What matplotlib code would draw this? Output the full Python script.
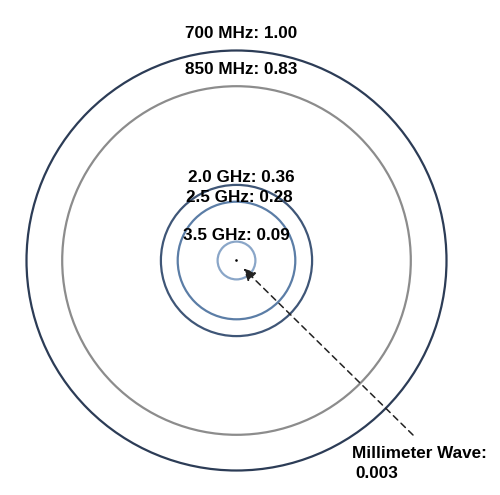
import matplotlib
matplotlib.use("Agg")
import matplotlib.pyplot as plt
from matplotlib.patches import Circle

plt.rcParams['font.family'] = ['Liberation Sans', 'DejaVu Sans']

# Data
bands = ["700 MHz", "850 MHz", "2.0 GHz", "2.5 GHz", "3.5 GHz", "Millimeter Wave"]
relative_range = [1.00, 0.83, 0.36, 0.28, 0.09, 0.003]
labels = ["700 MHz: 1.00", "850 MHz: 0.83", "2.0 GHz: 0.36", "2.5 GHz: 0.28", "3.5 GHz: 0.09", "Millimeter Wave:\n0.003"]

colors = ["#2c3c56", "#8c8c8c", "#3f5677", "#5b7da6", "#8aa6c8", "#000000"]

fig = plt.figure(figsize=(5.0, 4.95), dpi=100)
ax = fig.add_axes([0, 0, 1, 1])
ax.set_xlim(0, 500)
ax.set_ylim(495, 0)
ax.set_aspect('equal')
ax.axis('off')

cx, cy, scale = 236.5, 260.5, 210.0

for val, col in zip(relative_range[:-1], colors[:-1]):
    ax.add_patch(Circle((cx, cy), val * scale, fill=False, edgecolor=col, lw=1.6))

# Millimeter wave: tiny dot
ax.add_patch(Circle((cx, cy), max(relative_range[-1] * scale, 1.3), color=colors[-1], lw=0))

fs = 12.3
ax.text(241, 33, labels[0], ha='center', va='center', fontsize=fs, fontweight='bold')
ax.text(241, 70, labels[1], ha='center', va='center', fontsize=fs, fontweight='bold')
ax.text(241, 177, labels[2], ha='center', va='center', fontsize=fs, fontweight='bold')
ax.text(239, 197, labels[3], ha='center', va='center', fontsize=fs, fontweight='bold')
ax.text(236, 235, labels[4], ha='center', va='center', fontsize=fs, fontweight='bold')
ax.text(352, 453, "Millimeter Wave:", ha='left', va='center', fontsize=fs, fontweight='bold')
ax.text(355, 473, "0.003", ha='left', va='center', fontsize=fs, fontweight='bold')

ax.annotate("", xy=(cx + 7, cy + 8), xytext=(413, 435),
            arrowprops=dict(arrowstyle='-|>', linestyle=(0, (4, 3)), color='#222222',
                            lw=1.1, mutation_scale=18, shrinkA=0, shrinkB=0))

fig.savefig("out.png", dpi=100, facecolor='white')
